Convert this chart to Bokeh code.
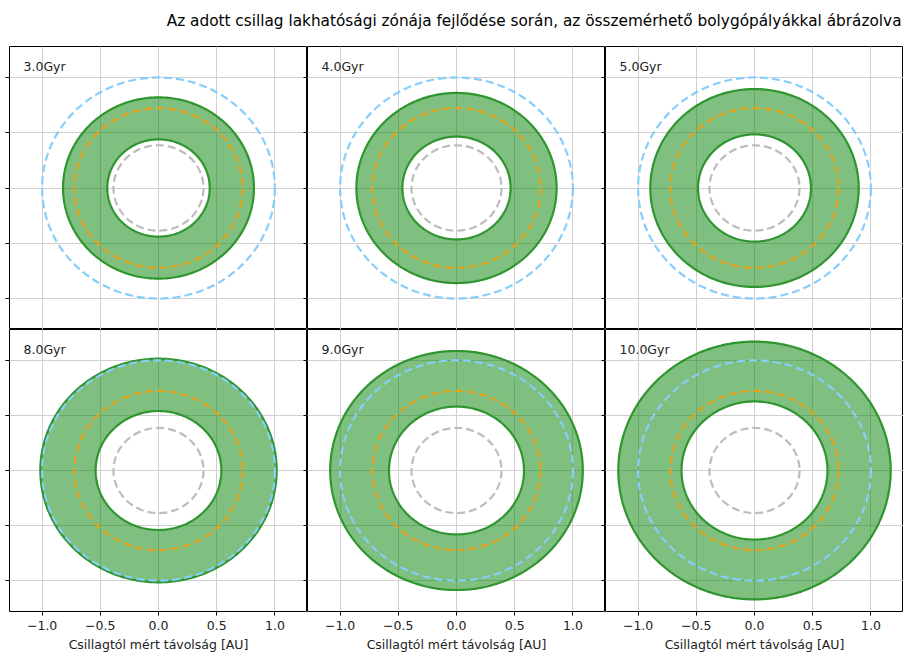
import numpy as np
from bokeh.plotting import figure
from bokeh.layouts import gridplot, column
from bokeh.models import Range1d, LinearAxis, FixedTicker, Grid, Label
from bokeh.embed import file_html
from bokeh.resources import INLINE

# ---------------- data ----------------
title_text = "Az adott csillag lakhatósági zónája fejlődése során, az összemérhető bolygópályákkal ábrázolva"
ages = ["3.0Gyr", "4.0Gyr", "5.0Gyr", "8.0Gyr", "9.0Gyr", "10.0Gyr"]
hz_inner = [0.44, 0.465, 0.485, 0.54, 0.58, 0.627]   # AU
hz_outer = [0.82, 0.86, 0.895, 1.015, 1.085, 1.17]   # AU
planet_orbits = [0.387, 0.723, 1.0]                  # AU (Merkúr, Vénusz, Föld)
planet_colors = ["#bdbdbd", "#e3a21a", "#87cefa"]
x_ticks = [-1.0, -0.5, 0.0, 0.5, 1.0]
x_tick_labels = ["\u22121.0", "\u22120.5", "0.0", "0.5", "1.0"]
y_ticks = [-1.0, -0.5, 0.0, 0.5, 1.0]
axis_label = "Csillagtól mért távolság [AU]"
lim = 1.28

FONT = "DejaVu Sans"
FRAME_W = 298
TOP_H = 283
BOT_H = 282
BOT_BORDER = 43
LEFT_BORDER = 9
TITLE_H = 46
TOTAL_W = LEFT_BORDER + 3 * FRAME_W

theta = np.linspace(0, 2 * np.pi, 361)


def tick_axis(inward):
    # ticks only (drawn as minor ticks, so that no labels are produced)
    return LinearAxis(ticker=FixedTicker(ticks=[], minor_ticks=y_ticks),
                      major_tick_out=0, major_tick_in=0,
                      minor_tick_out=0 if inward else 4,
                      minor_tick_in=4 if inward else 0,
                      minor_tick_line_color="black", minor_tick_line_width=1,
                      axis_line_color=None, major_label_standoff=0)


def make_panel(i):
    row, col = divmod(i, 3)
    left = LEFT_BORDER if col == 0 else 0
    bottom = BOT_BORDER if row == 1 else 0
    fh = TOP_H if row == 0 else BOT_H
    p = figure(width=FRAME_W + left, height=fh + bottom,
               x_range=Range1d(-lim, lim), y_range=Range1d(-lim, lim),
               x_axis_location=None, y_axis_location=None,
               toolbar_location=None, output_backend="svg",
               min_border_left=left, min_border_right=0,
               min_border_top=0, min_border_bottom=bottom)
    p.outline_line_color = "black"
    p.outline_line_width = 1
    p.outline_line_alpha = 1.0
    p.background_fill_color = "white"
    p.border_fill_color = "white"

    p.add_layout(Grid(dimension=0, ticker=FixedTicker(ticks=x_ticks),
                      grid_line_color="#d0d0d0", grid_line_width=1))
    p.add_layout(Grid(dimension=1, ticker=FixedTicker(ticks=y_ticks),
                      grid_line_color="#d0d0d0", grid_line_width=1))

    if col == 0:
        p.add_layout(tick_axis(inward=False), "left")
    if col < 2:
        # ticks of the neighbouring panel's left spine
        p.add_layout(tick_axis(inward=True), "right")
    if row == 1:
        xa = LinearAxis(ticker=FixedTicker(ticks=x_ticks), major_tick_out=4, major_tick_in=0,
                        minor_tick_out=0, minor_tick_in=0,
                        major_label_overrides=dict(zip(x_ticks, x_tick_labels)),
                        major_label_text_font=FONT, major_label_text_font_size="12.5px",
                        major_label_text_color="#222222", major_label_standoff=5,
                        axis_label=axis_label, axis_label_text_font=FONT,
                        axis_label_text_font_size="12.5px", axis_label_text_font_style="normal",
                        axis_label_text_color="#222222", axis_label_standoff=4,
                        axis_line_color=None, major_tick_line_color="black")
        p.add_layout(xa, "below")

    ri, ro = hz_inner[i], hz_outer[i]
    xs = [[[list(ro * np.cos(theta)), list(ri * np.cos(theta))]]]
    ys = [[[list(ro * np.sin(theta)), list(ri * np.sin(theta))]]]
    p.multi_polygons(xs=xs, ys=ys, fill_color="#008000", fill_alpha=0.5,
                     line_color="#2f952f", line_width=2.2)

    for r, c in zip(planet_orbits, planet_colors):
        p.ellipse(x=0, y=0, width=2 * r, height=2 * r, fill_color=None,
                  line_color=c, line_width=2.2, line_dash="8 4")

    p.add_layout(Label(x=14, y=fh - 12, x_units="screen", y_units="screen",
                       text=ages[i], text_font=FONT, text_font_size="12.5px",
                       text_color="#222222", text_baseline="top", text_align="left"))
    return p


panels = [make_panel(i) for i in range(6)]
grid = gridplot([panels[0:3], panels[3:6]], toolbar_location=None)

tp = figure(width=TOTAL_W, height=TITLE_H, toolbar_location=None, output_backend="svg",
            x_axis_location=None, y_axis_location=None,
            min_border_left=0, min_border_right=0, min_border_top=0, min_border_bottom=0,
            x_range=Range1d(0, 1), y_range=Range1d(0, 1))
tp.outline_line_color = None
tp.xgrid.visible = False
tp.ygrid.visible = False
tp.add_layout(Label(x=TOTAL_W - 2, y=TITLE_H - 20, x_units="screen", y_units="screen",
                    text=title_text, text_font=FONT, text_font_size="15.3px",
                    text_color="black", text_align="right", text_baseline="middle"))

layout = column(tp, grid, spacing=0)

with open("out.html", "w") as f:
    f.write(file_html(layout, INLINE))
